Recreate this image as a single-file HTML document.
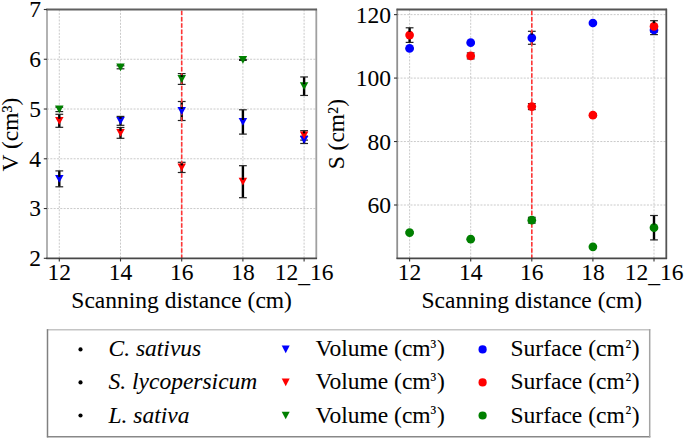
<!DOCTYPE html>
<html><head><meta charset="utf-8"><title>chart</title>
<style>html,body{margin:0;padding:0;background:#fff;width:685px;height:440px;overflow:hidden}svg{display:block}</style>
</head><body>
<svg width="685" height="440" viewBox="0 0 685 440">
<style>
.g{stroke:#bcbcbc;stroke-width:0.8;stroke-dasharray:2 1.33;fill:none}
.sp{fill:none;stroke:#333;stroke-width:1.3}
.tk{stroke:#333;stroke-width:1.1}
.eb{stroke:#000;stroke-width:2.4}
.cap{stroke:#222;stroke-width:1.2}
.rd{stroke:#ff3535;stroke-width:1.6;stroke-dasharray:4.36 1.89;stroke-dashoffset:4.95}
text{font-family:"Liberation Serif",serif;font-size:23.5px;fill:#000;stroke:#000;stroke-width:0.06}
</style>
<rect width="685" height="440" fill="#fff"/>
<line x1="59.30" y1="9.5" x2="59.30" y2="258.3" class="g"/>
<line x1="120.50" y1="9.5" x2="120.50" y2="258.3" class="g"/>
<line x1="181.70" y1="9.5" x2="181.70" y2="258.3" class="g"/>
<line x1="242.90" y1="9.5" x2="242.90" y2="258.3" class="g"/>
<line x1="304.10" y1="9.5" x2="304.10" y2="258.3" class="g"/>
<line x1="47.0" y1="208.54" x2="316.3" y2="208.54" class="g"/>
<line x1="47.0" y1="158.78" x2="316.3" y2="158.78" class="g"/>
<line x1="47.0" y1="109.02" x2="316.3" y2="109.02" class="g"/>
<line x1="47.0" y1="59.26" x2="316.3" y2="59.26" class="g"/>
<line x1="409.60" y1="9.5" x2="409.60" y2="258.3" class="g"/>
<line x1="470.70" y1="9.5" x2="470.70" y2="258.3" class="g"/>
<line x1="531.80" y1="9.5" x2="531.80" y2="258.3" class="g"/>
<line x1="592.90" y1="9.5" x2="592.90" y2="258.3" class="g"/>
<line x1="654.00" y1="9.5" x2="654.00" y2="258.3" class="g"/>
<line x1="397.2" y1="205.00" x2="666.3" y2="205.00" class="g"/>
<line x1="397.2" y1="141.54" x2="666.3" y2="141.54" class="g"/>
<line x1="397.2" y1="78.08" x2="666.3" y2="78.08" class="g"/>
<line x1="397.2" y1="14.62" x2="666.3" y2="14.62" class="g"/>
<line x1="59.30" y1="170.90" x2="59.30" y2="186.80" class="eb"/><line x1="55.40" y1="170.90" x2="63.20" y2="170.90" class="cap"/><line x1="55.40" y1="186.80" x2="63.20" y2="186.80" class="cap"/>
<line x1="120.50" y1="116.40" x2="120.50" y2="125.30" class="eb"/><line x1="116.60" y1="116.40" x2="124.40" y2="116.40" class="cap"/><line x1="116.60" y1="125.30" x2="124.40" y2="125.30" class="cap"/>
<line x1="181.70" y1="101.50" x2="181.70" y2="120.50" class="eb"/><line x1="177.80" y1="101.50" x2="185.60" y2="101.50" class="cap"/><line x1="177.80" y1="120.50" x2="185.60" y2="120.50" class="cap"/>
<line x1="242.90" y1="109.80" x2="242.90" y2="134.10" class="eb"/><line x1="239.00" y1="109.80" x2="246.80" y2="109.80" class="cap"/><line x1="239.00" y1="134.10" x2="246.80" y2="134.10" class="cap"/>
<line x1="304.10" y1="136.10" x2="304.10" y2="143.50" class="eb"/><line x1="300.20" y1="136.10" x2="308.00" y2="136.10" class="cap"/><line x1="300.20" y1="143.50" x2="308.00" y2="143.50" class="cap"/>
<line x1="59.30" y1="114.30" x2="59.30" y2="127.30" class="eb"/><line x1="55.40" y1="114.30" x2="63.20" y2="114.30" class="cap"/><line x1="55.40" y1="127.30" x2="63.20" y2="127.30" class="cap"/>
<line x1="120.50" y1="127.50" x2="120.50" y2="138.30" class="eb"/><line x1="116.60" y1="127.50" x2="124.40" y2="127.50" class="cap"/><line x1="116.60" y1="138.30" x2="124.40" y2="138.30" class="cap"/>
<line x1="181.70" y1="162.30" x2="181.70" y2="172.50" class="eb"/><line x1="177.80" y1="162.30" x2="185.60" y2="162.30" class="cap"/><line x1="177.80" y1="172.50" x2="185.60" y2="172.50" class="cap"/>
<line x1="242.90" y1="165.70" x2="242.90" y2="197.70" class="eb"/><line x1="239.00" y1="165.70" x2="246.80" y2="165.70" class="cap"/><line x1="239.00" y1="197.70" x2="246.80" y2="197.70" class="cap"/>
<line x1="304.10" y1="130.70" x2="304.10" y2="140.10" class="eb"/><line x1="300.20" y1="130.70" x2="308.00" y2="130.70" class="cap"/><line x1="300.20" y1="140.10" x2="308.00" y2="140.10" class="cap"/>
<line x1="59.30" y1="107.20" x2="59.30" y2="111.60" class="eb"/><line x1="55.40" y1="107.20" x2="63.20" y2="107.20" class="cap"/><line x1="55.40" y1="111.60" x2="63.20" y2="111.60" class="cap"/>
<line x1="120.50" y1="65.80" x2="120.50" y2="68.80" class="eb"/><line x1="116.60" y1="65.80" x2="124.40" y2="65.80" class="cap"/><line x1="116.60" y1="68.80" x2="124.40" y2="68.80" class="cap"/>
<line x1="181.70" y1="73.60" x2="181.70" y2="84.40" class="eb"/><line x1="177.80" y1="73.60" x2="185.60" y2="73.60" class="cap"/><line x1="177.80" y1="84.40" x2="185.60" y2="84.40" class="cap"/>
<line x1="242.90" y1="59.40" x2="242.90" y2="60.40" class="eb"/><line x1="239.00" y1="59.40" x2="246.80" y2="59.40" class="cap"/><line x1="239.00" y1="60.40" x2="246.80" y2="60.40" class="cap"/>
<line x1="304.10" y1="76.95" x2="304.10" y2="95.45" class="eb"/><line x1="300.20" y1="76.95" x2="308.00" y2="76.95" class="cap"/><line x1="300.20" y1="95.45" x2="308.00" y2="95.45" class="cap"/>
<line x1="409.60" y1="47.90" x2="409.60" y2="48.90" class="eb"/><line x1="405.70" y1="47.90" x2="413.50" y2="47.90" class="cap"/><line x1="405.70" y1="48.90" x2="413.50" y2="48.90" class="cap"/>
<line x1="470.70" y1="42.20" x2="470.70" y2="43.20" class="eb"/><line x1="466.80" y1="42.20" x2="474.60" y2="42.20" class="cap"/><line x1="466.80" y1="43.20" x2="474.60" y2="43.20" class="cap"/>
<line x1="531.80" y1="31.30" x2="531.80" y2="44.30" class="eb"/><line x1="527.90" y1="31.30" x2="535.70" y2="31.30" class="cap"/><line x1="527.90" y1="44.30" x2="535.70" y2="44.30" class="cap"/>
<line x1="592.90" y1="22.50" x2="592.90" y2="23.50" class="eb"/><line x1="589.00" y1="22.50" x2="596.80" y2="22.50" class="cap"/><line x1="589.00" y1="23.50" x2="596.80" y2="23.50" class="cap"/>
<line x1="654.00" y1="25.40" x2="654.00" y2="34.60" class="eb"/><line x1="650.10" y1="25.40" x2="657.90" y2="25.40" class="cap"/><line x1="650.10" y1="34.60" x2="657.90" y2="34.60" class="cap"/>
<line x1="409.60" y1="27.80" x2="409.60" y2="42.40" class="eb"/><line x1="405.70" y1="27.80" x2="413.50" y2="27.80" class="cap"/><line x1="405.70" y1="42.40" x2="413.50" y2="42.40" class="cap"/>
<line x1="470.70" y1="52.90" x2="470.70" y2="58.90" class="eb"/><line x1="466.80" y1="52.90" x2="474.60" y2="52.90" class="cap"/><line x1="466.80" y1="58.90" x2="474.60" y2="58.90" class="cap"/>
<line x1="531.80" y1="103.60" x2="531.80" y2="109.60" class="eb"/><line x1="527.90" y1="103.60" x2="535.70" y2="103.60" class="cap"/><line x1="527.90" y1="109.60" x2="535.70" y2="109.60" class="cap"/>
<line x1="592.90" y1="113.70" x2="592.90" y2="116.70" class="eb"/><line x1="589.00" y1="113.70" x2="596.80" y2="113.70" class="cap"/><line x1="589.00" y1="116.70" x2="596.80" y2="116.70" class="cap"/>
<line x1="654.00" y1="20.70" x2="654.00" y2="32.10" class="eb"/><line x1="650.10" y1="20.70" x2="657.90" y2="20.70" class="cap"/><line x1="650.10" y1="32.10" x2="657.90" y2="32.10" class="cap"/>
<line x1="409.60" y1="231.60" x2="409.60" y2="233.60" class="eb"/><line x1="405.70" y1="231.60" x2="413.50" y2="231.60" class="cap"/><line x1="405.70" y1="233.60" x2="413.50" y2="233.60" class="cap"/>
<line x1="470.70" y1="238.70" x2="470.70" y2="239.70" class="eb"/><line x1="466.80" y1="238.70" x2="474.60" y2="238.70" class="cap"/><line x1="466.80" y1="239.70" x2="474.60" y2="239.70" class="cap"/>
<line x1="531.80" y1="217.30" x2="531.80" y2="223.10" class="eb"/><line x1="527.90" y1="217.30" x2="535.70" y2="217.30" class="cap"/><line x1="527.90" y1="223.10" x2="535.70" y2="223.10" class="cap"/>
<line x1="592.90" y1="246.30" x2="592.90" y2="247.30" class="eb"/><line x1="589.00" y1="246.30" x2="596.80" y2="246.30" class="cap"/><line x1="589.00" y1="247.30" x2="596.80" y2="247.30" class="cap"/>
<line x1="654.00" y1="215.50" x2="654.00" y2="239.90" class="eb"/><line x1="650.10" y1="215.50" x2="657.90" y2="215.50" class="cap"/><line x1="650.10" y1="239.90" x2="657.90" y2="239.90" class="cap"/>
<line x1="181.70" y1="9.5" x2="181.70" y2="258.3" class="rd"/>
<line x1="531.80" y1="9.5" x2="531.80" y2="258.3" class="rd"/>
<path d="M55.05,174.95L63.55,174.95L59.30,182.75Z" fill="#0000ff"/>
<rect x="58.20" y="174.95" width="2.2" height="1.9" fill="#000"/>
<path d="M116.25,116.95L124.75,116.95L120.50,124.75Z" fill="#0000ff"/>
<rect x="119.40" y="116.95" width="2.2" height="1.9" fill="#000"/>
<path d="M177.45,107.10L185.95,107.10L181.70,114.90Z" fill="#0000ff"/>
<rect x="180.60" y="107.10" width="2.2" height="1.9" fill="#000"/>
<path d="M238.65,118.05L247.15,118.05L242.90,125.85Z" fill="#0000ff"/>
<rect x="241.80" y="118.05" width="2.2" height="1.9" fill="#000"/>
<path d="M299.85,135.90L308.35,135.90L304.10,143.70Z" fill="#0000ff"/>
<path d="M55.05,116.90L63.55,116.90L59.30,124.70Z" fill="#ff0000"/>
<rect x="58.20" y="116.90" width="2.2" height="1.9" fill="#000"/>
<path d="M116.25,129.00L124.75,129.00L120.50,136.80Z" fill="#ff0000"/>
<rect x="119.40" y="129.00" width="2.2" height="1.9" fill="#000"/>
<path d="M177.45,163.50L185.95,163.50L181.70,171.30Z" fill="#ff0000"/>
<rect x="180.60" y="163.50" width="2.2" height="1.9" fill="#000"/>
<path d="M238.65,177.80L247.15,177.80L242.90,185.60Z" fill="#ff0000"/>
<rect x="241.80" y="177.80" width="2.2" height="1.9" fill="#000"/>
<path d="M299.85,131.50L308.35,131.50L304.10,139.30Z" fill="#ff0000"/>
<rect x="303.00" y="131.50" width="2.2" height="1.9" fill="#000"/>
<path d="M55.05,105.50L63.55,105.50L59.30,113.30Z" fill="#008000"/>
<path d="M116.25,63.40L124.75,63.40L120.50,71.20Z" fill="#008000"/>
<path d="M177.45,75.10L185.95,75.10L181.70,82.90Z" fill="#008000"/>
<rect x="180.60" y="75.10" width="2.2" height="1.9" fill="#000"/>
<path d="M238.65,56.00L247.15,56.00L242.90,63.80Z" fill="#008000"/>
<path d="M299.85,82.30L308.35,82.30L304.10,90.10Z" fill="#008000"/>
<rect x="303.00" y="82.30" width="2.2" height="1.9" fill="#000"/>
<circle cx="409.60" cy="48.40" r="4.35" fill="#0000ff"/>
<circle cx="470.70" cy="42.70" r="4.35" fill="#0000ff"/>
<circle cx="531.80" cy="37.80" r="4.35" fill="#0000ff"/>
<rect x="530.70" y="33.50" width="2.2" height="1.1" fill="#000"/>
<circle cx="592.90" cy="23.00" r="4.35" fill="#0000ff"/>
<circle cx="654.00" cy="30.00" r="4.35" fill="#0000ff"/>
<circle cx="409.60" cy="35.10" r="4.35" fill="#ff0000"/>
<rect x="408.50" y="30.80" width="2.2" height="1.1" fill="#000"/>
<circle cx="470.70" cy="55.90" r="4.35" fill="#ff0000"/>
<circle cx="531.80" cy="106.60" r="4.35" fill="#ff0000"/>
<circle cx="592.90" cy="115.20" r="4.35" fill="#ff0000"/>
<circle cx="654.00" cy="26.40" r="4.35" fill="#ff0000"/>
<rect x="652.90" y="22.10" width="2.2" height="1.1" fill="#000"/>
<circle cx="409.60" cy="232.60" r="4.35" fill="#008000"/>
<circle cx="470.70" cy="239.20" r="4.35" fill="#008000"/>
<circle cx="531.80" cy="220.20" r="4.35" fill="#008000"/>
<circle cx="592.90" cy="246.80" r="4.35" fill="#008000"/>
<circle cx="654.00" cy="227.70" r="4.35" fill="#008000"/>
<rect x="652.90" y="223.40" width="2.2" height="1.1" fill="#000"/>
<line x1="47.0" y1="8.8" x2="47.0" y2="259.0" stroke="#aaa" stroke-width="1.8"/>
<line x1="316.3" y1="8.8" x2="316.3" y2="259.0" stroke="#a0a0a0" stroke-width="1.8"/>
<line x1="46.3" y1="9.5" x2="317.0" y2="9.5" stroke="#606060" stroke-width="1.8"/>
<line x1="46.3" y1="258.3" x2="317.0" y2="258.3" stroke="#484848" stroke-width="1.8"/>
<line x1="59.30" y1="258.3" x2="59.30" y2="261.5" class="tk"/>
<line x1="120.50" y1="258.3" x2="120.50" y2="261.5" class="tk"/>
<line x1="181.70" y1="258.3" x2="181.70" y2="261.5" class="tk"/>
<line x1="242.90" y1="258.3" x2="242.90" y2="261.5" class="tk"/>
<line x1="304.10" y1="258.3" x2="304.10" y2="261.5" class="tk"/>
<line x1="43.8" y1="258.30" x2="47.0" y2="258.30" class="tk"/>
<line x1="43.8" y1="208.54" x2="47.0" y2="208.54" class="tk"/>
<line x1="43.8" y1="158.78" x2="47.0" y2="158.78" class="tk"/>
<line x1="43.8" y1="109.02" x2="47.0" y2="109.02" class="tk"/>
<line x1="43.8" y1="59.26" x2="47.0" y2="59.26" class="tk"/>
<line x1="43.8" y1="9.50" x2="47.0" y2="9.50" class="tk"/>
<line x1="397.2" y1="8.8" x2="397.2" y2="259.0" stroke="#909090" stroke-width="1.8"/>
<line x1="666.3" y1="8.8" x2="666.3" y2="259.0" stroke="#555" stroke-width="1.8"/>
<line x1="396.5" y1="9.5" x2="667.0" y2="9.5" stroke="#555" stroke-width="1.8"/>
<line x1="396.5" y1="258.3" x2="667.0" y2="258.3" stroke="#484848" stroke-width="1.8"/>
<line x1="409.60" y1="258.3" x2="409.60" y2="261.5" class="tk"/>
<line x1="470.70" y1="258.3" x2="470.70" y2="261.5" class="tk"/>
<line x1="531.80" y1="258.3" x2="531.80" y2="261.5" class="tk"/>
<line x1="592.90" y1="258.3" x2="592.90" y2="261.5" class="tk"/>
<line x1="654.00" y1="258.3" x2="654.00" y2="261.5" class="tk"/>
<line x1="394.0" y1="205.00" x2="397.2" y2="205.00" class="tk"/>
<line x1="394.0" y1="141.54" x2="397.2" y2="141.54" class="tk"/>
<line x1="394.0" y1="78.08" x2="397.2" y2="78.08" class="tk"/>
<line x1="394.0" y1="14.62" x2="397.2" y2="14.62" class="tk"/>
<text x="59.30" y="279.6" text-anchor="middle">12</text>
<text x="120.50" y="279.6" text-anchor="middle">14</text>
<text x="181.70" y="279.6" text-anchor="middle">16</text>
<text x="242.90" y="279.6" text-anchor="middle">18</text>
<text x="304.10" y="279.6" text-anchor="middle">12<tspan dy="2.6">_</tspan><tspan dy="-2.6">16</tspan></text>
<text x="409.60" y="279.6" text-anchor="middle">12</text>
<text x="470.70" y="279.6" text-anchor="middle">14</text>
<text x="531.80" y="279.6" text-anchor="middle">16</text>
<text x="592.90" y="279.6" text-anchor="middle">18</text>
<text x="654.00" y="279.6" text-anchor="middle">12<tspan dy="2.6">_</tspan><tspan dy="-2.6">16</tspan></text>
<text x="41" y="266.10" text-anchor="end">2</text>
<text x="41" y="216.34" text-anchor="end">3</text>
<text x="41" y="166.58" text-anchor="end">4</text>
<text x="41" y="116.82" text-anchor="end">5</text>
<text x="41" y="67.06" text-anchor="end">6</text>
<text x="41" y="17.30" text-anchor="end">7</text>
<text x="391" y="213.30" text-anchor="end">60</text>
<text x="391" y="149.84" text-anchor="end">80</text>
<text x="391" y="86.38" text-anchor="end">100</text>
<text x="391" y="22.92" text-anchor="end">120</text>
<text x="181.65" y="307.6" text-anchor="middle">Scanning distance (cm)</text>
<text x="531.75" y="307.6" text-anchor="middle">Scanning distance (cm)</text>
<text transform="translate(17.8,134.5) rotate(-90)" text-anchor="middle">V (cm³)</text>
<text transform="translate(343.7,134.2) rotate(-90)" text-anchor="middle">S (cm²)</text>
<line x1="46.9" y1="329.8" x2="650.3000000000001" y2="329.8" stroke="#c4c4c4" stroke-width="1.5"/>
<line x1="46.9" y1="436.8" x2="650.3000000000001" y2="436.8" stroke="#888" stroke-width="1.5"/>
<line x1="47.5" y1="329.2" x2="47.5" y2="437.40000000000003" stroke="#808080" stroke-width="1.5"/>
<line x1="649.7" y1="329.2" x2="649.7" y2="437.40000000000003" stroke="#a4a4a4" stroke-width="1.5"/>
<circle cx="80.5" cy="349.4" r="2.1" fill="#000"/>
<text x="108.5" y="356.4" font-style="italic">C. sativus</text>
<path d="M281.70,345.60L289.70,345.60L285.70,353.20Z" fill="#0000ff"/>
<text x="315.5" y="356.4">Volume (cm<tspan font-size="19" dy="-3.4">³</tspan><tspan dx="0.6" dy="3.4">)</tspan></text>
<circle cx="482.60" cy="349.40" r="4.1" fill="#0000ff"/>
<text x="510.5" y="356.4">Surface (cm<tspan font-size="19" dx="0.7" dy="-3.4">²</tspan><tspan dx="0.6" dy="3.4">)</tspan></text>
<circle cx="80.5" cy="382.4" r="2.1" fill="#000"/>
<text x="108.5" y="389.4" font-style="italic">S. lycopersicum</text>
<path d="M281.70,378.60L289.70,378.60L285.70,386.20Z" fill="#ff0000"/>
<text x="315.5" y="389.4">Volume (cm<tspan font-size="19" dy="-3.4">³</tspan><tspan dx="0.6" dy="3.4">)</tspan></text>
<circle cx="482.60" cy="382.40" r="4.1" fill="#ff0000"/>
<text x="510.5" y="389.4">Surface (cm<tspan font-size="19" dx="0.7" dy="-3.4">²</tspan><tspan dx="0.6" dy="3.4">)</tspan></text>
<circle cx="80.5" cy="415.5" r="2.1" fill="#000"/>
<text x="108.5" y="422.5" font-style="italic">L. sativa</text>
<path d="M281.70,411.70L289.70,411.70L285.70,419.30Z" fill="#008000"/>
<text x="315.5" y="422.5">Volume (cm<tspan font-size="19" dy="-3.4">³</tspan><tspan dx="0.6" dy="3.4">)</tspan></text>
<circle cx="482.60" cy="415.50" r="4.1" fill="#008000"/>
<text x="510.5" y="422.5">Surface (cm<tspan font-size="19" dx="0.7" dy="-3.4">²</tspan><tspan dx="0.6" dy="3.4">)</tspan></text>
</svg>
</body></html>
